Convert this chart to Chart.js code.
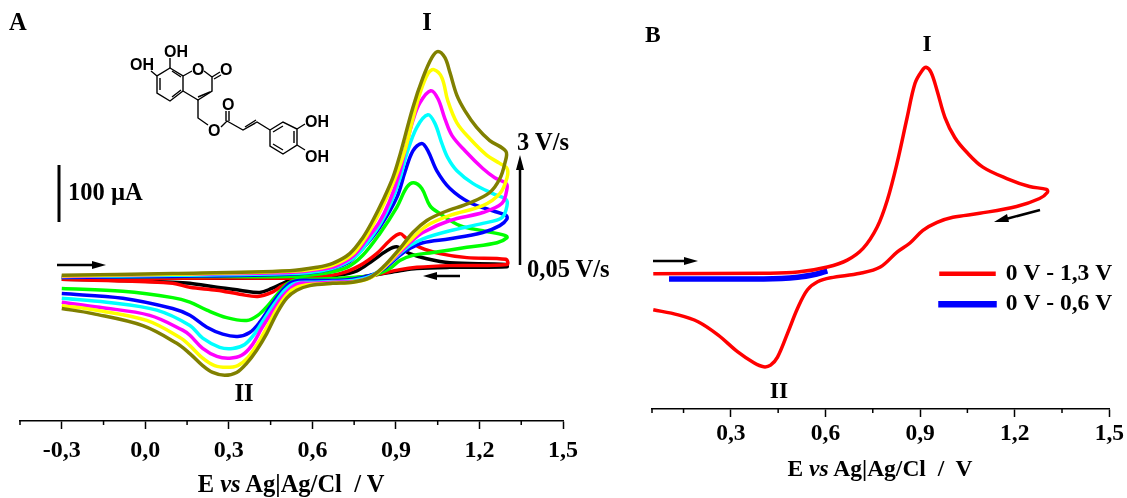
<!DOCTYPE html>
<html>
<head>
<meta charset="utf-8">
<style>
  html, body { margin: 0; padding: 0; background: #fff; }
  body { width: 1127px; height: 498px; position: relative; overflow: hidden; }
  canvas { position: absolute; top: 0; }
  #cvA { left: 0; }
  #cvB { left: 600px; }
  svg { position: absolute; left: 0; top: 0; pointer-events: none; }
  .lab { font: bold 24.5px "Liberation Serif", serif; fill: #000; }
  .labB { font: bold 23.5px "Liberation Serif", serif; fill: #000; }
  .mol { font: bold 16px "Liberation Sans", sans-serif; fill: #000; }
</style>
<script src="https://cdn.jsdelivr.net/npm/chart.js@4/dist/chart.umd.min.js"></script>
</head>
<body>
<canvas id="cvA" width="600" height="498"></canvas>
<canvas id="cvB" width="527" height="498"></canvas>
<svg width="1127" height="498" viewBox="0 0 1127 498">
  <!-- panel letters and peak labels -->
  <text class="lab" x="9" y="30">A</text>
  <text class="labB" x="645" y="42">B</text>
  <text class="lab" x="427" y="30" text-anchor="middle">I</text>
  <text class="lab" x="244" y="401" text-anchor="middle">II</text>
  <text class="labB" x="927" y="51" text-anchor="middle">I</text>
  <text class="labB" x="779" y="398" text-anchor="middle">II</text>
  <text class="lab" x="68" y="200">100 µA</text>
  <text class="lab" x="517" y="150">3 V/s</text>
  <text class="lab" x="527" y="277">0,05 V/s</text>
  <text class="lab" x="291" y="492" text-anchor="middle" xml:space="preserve">E <tspan font-style="italic">vs</tspan> Ag|Ag/Cl  / V</text>
  <text class="labB" x="880" y="476" text-anchor="middle" xml:space="preserve">E <tspan font-style="italic">vs</tspan> Ag|Ag/Cl  /  V</text>

  <!-- scale bar and arrows -->
  <line x1="59" y1="165" x2="59" y2="222" stroke="#000" stroke-width="3"/>
  <g stroke="#000" stroke-width="2.5" fill="#000">
    <line x1="57" y1="265" x2="95" y2="265"/><path d="M106 265L92 261L92 269Z" stroke="none"/>
    <line x1="460" y1="276" x2="433" y2="276"/><path d="M423 276L437 272L437 280Z" stroke="none"/>
    <line x1="520" y1="265" x2="520" y2="168"/><path d="M520 155L516 170L524 170Z" stroke="none"/>
    <line x1="653" y1="261" x2="686" y2="261"/><path d="M698 261L684 257L684 265Z" stroke="none"/>
    <line x1="1040" y1="210" x2="1006" y2="219"/><path d="M994 222L1007 214L1009 222Z" stroke="none"/>
  </g>

  <!-- molecule -->
  <g stroke="#000" stroke-width="1.4" fill="none">
    <path d="M170 68L183 76L183 91L170 101L157 93L157 76Z"/>
    <path d="M172 97L181 90M160 90L160 78M172 71L181 77"/>
    <path d="M170 68L170 58M157 76L151 71M183 76L192 71M204 71L212 77L212 91L198 100L183 91"/>
    <path d="M212 77L220 72M214 79L221 75M210 92L198 97"/>
    <path d="M198 100L198 118L208 125M221 127L227 121L243 130L257 122L270 130"/>
    <path d="M226 121L226 111M229 121L229 111M245 127L256 120"/>
    <path d="M270 130L283 122L297 129L297 145L283 154L270 146Z"/>
    <path d="M273 132L283 126M294 131L294 143M273 144L283 150"/>
    <path d="M297 129L305 124M297 145L305 150"/>
  </g>
  <text class="mol" x="164" y="57">OH</text>
  <text class="mol" x="130" y="70">OH</text>
  <text class="mol" x="192" y="75">O</text>
  <text class="mol" x="220" y="75">O</text>
  <text class="mol" x="208" y="136">O</text>
  <text class="mol" x="222" y="110">O</text>
  <text class="mol" x="305" y="127">OH</text>
  <text class="mol" x="305" y="162">OH</text>
</svg>
<script>
// panel A, cyclic voltammograms at increasing scan rate (E in V, I in uA)
const blackE = [-0.3, 0.098, 0.519, 0.580, 0.688, 0.760, 0.817, 0.867, 0.903, 0.950, 1.011, 1.094, 1.295, 1.299, 1.094, 0.975, 0.914, 0.817, 0.699, 0.591, 0.544, 0.494, 0.454, 0.411, 0.339, 0.257, 0.160, 0.098, -0.099, -0.3];
const blackI = [-10, -10, -10, -10, -5, 3, 21, 38, 45, 33, 24, 17, 14, 10, 9, 7, 3, -5, -12, -12, -10, -19, -28, -35, -31, -26, -19, -17, -14, -12];
const redE = [-0.3, 0.098, 0.519, 0.580, 0.699, 0.770, 0.831, 0.878, 0.914, 0.939, 0.986, 1.058, 1.155, 1.295, 1.299, 1.094, 0.975, 0.914, 0.817, 0.699, 0.591, 0.544, 0.494, 0.454, 0.404, 0.339, 0.257, 0.160, 0.098, -0.139, -0.3];
const redI = [-12, -10, -10, -10, -2, 12, 33, 56, 68, 59, 44, 33, 26, 23, 14, 12, 9, 5, -5, -12, -12, -14, -23, -35, -42, -38, -31, -26, -19, -14, -12];
const greenE = [-0.3, 0.098, 0.519, 0.637, 0.724, 0.781, 0.842, 0.903, 0.939, 0.964, 0.993, 1.022, 1.058, 1.130, 1.212, 1.291, 1.299, 1.263, 1.155, 1.033, 0.961, 0.914, 0.878, 0.817, 0.699, 0.591, 0.548, 0.512, 0.476, 0.440, 0.404, 0.364, 0.292, 0.221, 0.160, 0.098, -0.081, -0.3];
const greenI = [-9, -7, -7, -2, 9, 30, 68, 114, 149, 157, 147, 117, 103, 82, 73, 65, 61, 52, 44, 35, 30, 21, 7, -5, -10, -12, -12, -19, -37, -58, -75, -84, -79, -66, -52, -44, -33, -28];
const blueE = [-0.3, 0.098, 0.519, 0.637, 0.724, 0.781, 0.842, 0.903, 0.932, 0.961, 0.993, 1.015, 1.047, 1.094, 1.166, 1.248, 1.295, 1.299, 1.273, 1.212, 1.094, 0.997, 0.950, 0.914, 0.853, 0.806, 0.745, 0.673, 0.591, 0.555, 0.519, 0.483, 0.447, 0.411, 0.375, 0.332, 0.278, 0.221, 0.160, 0.098, -0.081, -0.3];
const blueI = [-9, -7, -3, 3, 16, 42, 79, 131, 175, 213, 226, 213, 178, 147, 122, 108, 100, 94, 82, 70, 59, 52, 42, 30, 5, -5, -12, -14, -14, -14, -19, -37, -61, -87, -105, -112, -108, -96, -75, -63, -45, -37];
const cyanE = [-0.3, 0.098, 0.519, 0.634, 0.699, 0.756, 0.803, 0.846, 0.882, 0.914, 0.939, 0.975, 1.015, 1.040, 1.065, 1.086, 1.119, 1.176, 1.248, 1.295, 1.299, 1.281, 1.212, 1.094, 0.997, 0.950, 0.914, 0.853, 0.806, 0.745, 0.673, 0.591, 0.537, 0.501, 0.465, 0.429, 0.393, 0.357, 0.314, 0.267, 0.206, 0.160, 0.041, -0.139, -0.3];
const cyanI = [-7, -5, -2, 3, 12, 28, 56, 87, 122, 164, 208, 254, 276, 261, 226, 201, 178, 156, 138, 128, 117, 96, 86, 73, 59, 47, 33, 7, -7, -14, -16, -17, -19, -31, -54, -80, -107, -126, -133, -131, -115, -93, -66, -52, -45];
const magentaE = [-0.3, 0.098, 0.519, 0.627, 0.688, 0.749, 0.795, 0.839, 0.875, 0.911, 0.936, 0.961, 0.986, 1.025, 1.051, 1.076, 1.101, 1.148, 1.212, 1.255, 1.295, 1.299, 1.281, 1.212, 1.094, 0.997, 0.950, 0.914, 0.853, 0.806, 0.745, 0.673, 0.591, 0.555, 0.526, 0.490, 0.454, 0.418, 0.382, 0.346, 0.303, 0.257, 0.206, 0.160, 0.134, 0.016, -0.164, -0.3];
const magentaI = [-7, -3, 0, 5, 12, 30, 58, 87, 122, 171, 220, 266, 297, 318, 304, 269, 240, 213, 182, 166, 156, 147, 121, 105, 91, 70, 52, 35, 7, -9, -16, -17, -19, -19, -26, -44, -70, -98, -128, -145, -150, -147, -133, -110, -101, -75, -61, -52];
const yellowE = [-0.3, 0.098, 0.519, 0.620, 0.680, 0.742, 0.788, 0.824, 0.860, 0.896, 0.932, 0.961, 0.986, 1.015, 1.036, 1.065, 1.086, 1.119, 1.166, 1.227, 1.273, 1.299, 1.299, 1.273, 1.212, 1.094, 1.011, 0.961, 0.914, 0.853, 0.806, 0.745, 0.673, 0.591, 0.544, 0.512, 0.476, 0.440, 0.404, 0.368, 0.332, 0.292, 0.249, 0.206, 0.160, 0.124, 0.005, -0.175, -0.3];
const yellowI = [-6, -3, 2, 7, 14, 31, 59, 89, 124, 164, 213, 269, 313, 348, 355, 341, 301, 262, 234, 205, 191, 182, 166, 138, 117, 100, 82, 61, 38, 7, -10, -17, -19, -21, -26, -37, -61, -93, -124, -149, -163, -166, -163, -150, -128, -114, -84, -66, -58];
const oliveE = [-0.3, 0.098, 0.519, 0.616, 0.673, 0.734, 0.781, 0.817, 0.853, 0.889, 0.914, 0.961, 0.997, 1.029, 1.051, 1.076, 1.094, 1.119, 1.148, 1.190, 1.237, 1.295, 1.291, 1.273, 1.237, 1.166, 1.069, 1.011, 0.961, 0.914, 0.853, 0.806, 0.745, 0.673, 0.591, 0.544, 0.508, 0.472, 0.436, 0.400, 0.364, 0.328, 0.285, 0.242, 0.206, 0.160, 0.113, -0.009, -0.189, -0.3];
const oliveI = [-5, -2, 3, 9, 16, 33, 61, 91, 126, 166, 205, 289, 341, 376, 387, 376, 350, 310, 283, 254, 231, 212, 191, 164, 140, 122, 105, 91, 70, 42, 9, -9, -17, -19, -23, -31, -45, -72, -107, -136, -159, -175, -180, -175, -163, -142, -124, -93, -72, -63];

// panel B
const wideE = [0.054, 0.404, 0.512, 0.606, 0.669, 0.720, 0.764, 0.796, 0.827, 0.859, 0.884, 0.906, 0.919, 0.935, 0.954, 0.979, 1.010, 1.048, 1.099, 1.175, 1.247, 1.301, 1.304, 1.279, 1.206, 1.089, 1.004, 0.954, 0.909, 0.868, 0.827, 0.774, 0.710, 0.616, 0.575, 0.543, 0.512, 0.480, 0.448, 0.426, 0.404, 0.373, 0.322, 0.259, 0.196, 0.133, 0.054];
const wideI = [-3, -2, 0, 9, 21, 42, 79, 126, 191, 271, 331, 353, 359, 350, 318, 271, 236, 210, 184, 164, 150, 145, 140, 129, 115, 103, 96, 87, 73, 51, 35, 9, -2, -10, -17, -31, -63, -107, -149, -163, -166, -159, -140, -110, -87, -75, -66];
const shortE = [0.104, 0.404, 0.512, 0.575, 0.606];
const shortI = [-12, -12, -9, -3, 2];
const legendLabels = ["0 V - 1,3 V", "0 V - 0,6 V"];

const tickValuesA = [-0.3, 0, 0.3, 0.6, 0.9, 1.2, 1.5];
const tickLabelsA = ["-0,3", "0,0", "0,3", "0,6", "0,9", "1,2", "1,5"];
const minorTicksA = [-0.45, -0.15, 0.15, 0.45, 0.75, 1.05, 1.35];
const tickValuesB = [0.3, 0.6, 0.9, 1.2, 1.5];
const tickLabelsB = ["0,3", "0,6", "0,9", "1,2", "1,5"];
const minorTicksB = [0.05, 0.15, 0.45, 0.75, 1.05, 1.35];

const zip = (xs, ys) => xs.map((x, i) => ({ x: x, y: ys[i] }));

const curve = (label, xs, ys, color, width) => ({
  label: label,
  data: zip(xs, ys),
  borderColor: color,
  backgroundColor: color,
  borderWidth: width,
  pointRadius: 0,
  showLine: true,
  tension: 0.35,
  clip: false,
});

// chart.js has one tick length per axis, so the short ticks go on here
const minorTickPlugin = {
  id: "minorTicks",
  afterDraw(chart, args, opts) {
    const ctx = chart.ctx;
    const scale = chart.scales.x;
    ctx.save();
    ctx.strokeStyle = "#000";
    ctx.lineWidth = 1.5;
    opts.values.forEach((v) => {
      const px = scale.getPixelForValue(v);
      ctx.beginPath();
      ctx.moveTo(px, scale.top);
      ctx.lineTo(px, scale.top + opts.length);
      ctx.stroke();
    });
    ctx.restore();
  },
};

const legendPlacePlugin = {
  id: "legendPlace",
  beforeDraw(chart, args, opts) {
    if (!chart.legend || !opts.left) return;
    chart.legend.left = opts.left;
    chart.legend.top = opts.top;
    chart.legend.right = chart.width;
    chart.legend.bottom = chart.height;
    chart.legend.width = chart.width - opts.left;
    chart.legend.height = chart.height - opts.top;
  },
};

const makeChart = (id, datasets, cfg) =>
  new Chart(document.getElementById(id), {
    type: "scatter",
    data: { datasets: datasets },
    plugins: [minorTickPlugin, legendPlacePlugin],
    options: {
      responsive: false,
      animation: false,
      layout: { padding: { left: cfg.left, right: cfg.right, top: 0, bottom: 0 } },
      scales: {
        x: {
          type: "linear",
          min: cfg.min,
          max: 1.5,
          afterBuildTicks(scale) {
            scale.ticks = cfg.ticks.map((v) => ({ value: v }));
          },
          afterFit(scale) {
            scale.height = cfg.below;
          },
          border: { display: true, color: "#000", width: 1.5 },
          grid: { drawOnChartArea: false, drawTicks: true, tickLength: 8, color: "#000", tickColor: "#000", tickWidth: 1.5 },
          ticks: {
            autoSkip: false,
            maxRotation: 0,
            padding: cfg.tickPad,
            color: "#000",
            font: { family: "'Liberation Serif'", size: cfg.fontSize, weight: "bold" },
            callback: (v, i) => cfg.labels[i],
          },
        },
        y: { display: false, min: cfg.yMin, max: 477 },
      },
      plugins: {
        legend: cfg.legend,
        tooltip: { enabled: false },
        minorTicks: { values: cfg.minor, length: 4 },
        legendPlace: cfg.place,
      },
    },
  });

// first dataset is painted last, so the fastest scan comes first
makeChart(
  "cvA",
  [
    curve("3 V/s", oliveE, oliveI, "#808000", 3.5),
    curve("yellow", yellowE, yellowI, "#ffff00", 3.5),
    curve("magenta", magentaE, magentaI, "#ff00ff", 3.5),
    curve("cyan", cyanE, cyanI, "#00ffff", 3.5),
    curve("blue", blueE, blueI, "#0000ff", 3.5),
    curve("green", greenE, greenI, "#00ff00", 3.5),
    curve("red", redE, redI, "#ff0000", 3.5),
    curve("0,05 V/s", blackE, blackI, "#000000", 3.5),
  ],
  {
    left: 20, right: 37, below: 77, tickPad: 7, fontSize: 24, min: -0.45, yMin: -260,
    ticks: tickValuesA, labels: tickLabelsA, minor: minorTicksA,
    legend: { display: false },
    place: {},
  }
);

makeChart(
  "cvB",
  [
    curve(legendLabels[0], wideE, wideI, "#ff0000", 3.5),
    curve(legendLabels[1], shortE, shortI, "#0000ff", 5.5),
  ],
  {
    left: 52, right: 17, below: 89, tickPad: 3, fontSize: 23.5, min: 0.05, yMin: -240,
    ticks: tickValuesB, labels: tickLabelsB, minor: minorTicksB,
    legend: {
      display: true,
      position: "chartArea",
      align: "start",
      labels: {
        boxWidth: 53,
        boxHeight: 1,
        padding: 7,
        color: "#000",
        font: { family: "'Liberation Serif'", size: 23.5, weight: "bold" },
      },
    },
    place: { left: 334, top: 255 },
  }
);
</script>
</body>
</html>
